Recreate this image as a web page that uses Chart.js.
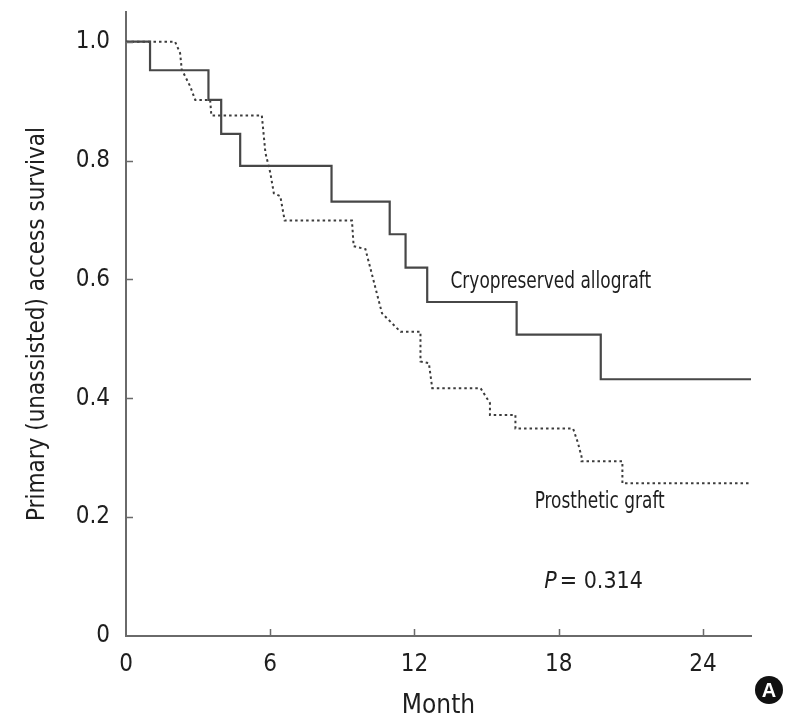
<!DOCTYPE html>
<html>
<head>
<meta charset="utf-8">
<title>Primary access survival</title>
<script src="https://cdn.jsdelivr.net/npm/chart.js@4.4.0/dist/chart.umd.min.js"></script>
<style>
  html, body { margin: 0; padding: 0; background: #fff; }
  #wrap { width: 787px; height: 720px; }
</style>
</head>
<body>
<div id="wrap"><canvas id="km" width="787" height="720"></canvas></div>
<script>
// Kaplan-Meier curves (months vs. survival)

const FONT = "'DejaVu Sans Condensed', 'Liberation Sans', sans-serif";
const INK = "#1e1e1e";
const AXIS = "#6a6a6a";

const xTicks = [0, 6, 12, 18, 24];
const yTicks = [0, 0.2, 0.4, 0.6, 0.8, 1.0];

// cryopreserved allograft: time of each drop and survival after it
const allograftMonths = [0, 1, 3.43, 3.96, 4.75, 8.55, 10.97, 11.63, 12.53, 16.25, 19.75, 26];
const allograftSurv = [1, 0.952, 0.902, 0.845, 0.791, 0.731, 0.676, 0.62, 0.562, 0.507, 0.432, 0.432];

// prosthetic graft: corners of the dotted curve (it slants where events bunch up)
const prostheticMonths = [0, 2.04, 2.25, 2.32, 2.67, 2.88, 3.5, 3.55, 5.65, 5.8, 6.0, 6.15, 6.42, 6.6,
  9.4, 9.47, 9.96, 10.65, 11.42, 12.25, 12.25, 12.6, 12.74, 14.75, 15.14, 15.14, 16.2, 16.2,
  18.6, 18.8, 18.95, 18.95, 20.65, 20.65, 25.9];
const prostheticSurv = [1, 1, 0.981, 0.953, 0.925, 0.902, 0.902, 0.876, 0.876, 0.813, 0.78, 0.745, 0.74, 0.699,
  0.699, 0.656, 0.651, 0.543, 0.512, 0.512, 0.462, 0.459, 0.417, 0.417, 0.392, 0.372, 0.372, 0.349,
  0.349, 0.325, 0.302, 0.294, 0.294, 0.257, 0.257];

const pValue = "0.314";

function toPoints(xs, ys) {
  return xs.map((x, i) => ({ x, y: ys[i] }));
}

// the figure uses a condensed face; squeeze the curve labels to the same width
function narrowText(ctx, text, x, y, squeeze) {
  ctx.save();
  ctx.translate(x, y);
  ctx.scale(squeeze, 1);
  ctx.fillText(text, 0, 0);
  ctx.restore();
}

// inward tick marks, curve labels, P value and the panel letter
const extras = {
  id: "extras",
  afterDraw(chart) {
    const { ctx, scales: { x, y } } = chart;
    ctx.save();

    ctx.strokeStyle = AXIS;
    ctx.lineWidth = 1.5;
    ctx.beginPath();
    xTicks.forEach((v) => {
      if (v === 0) return;
      const px = Math.round(x.getPixelForValue(v)) + 0.5;
      ctx.moveTo(px, y.bottom);
      ctx.lineTo(px, y.bottom - 7);
    });
    yTicks.forEach((v) => {
      if (v === 0) return;
      const py = Math.round(y.getPixelForValue(v)) + 0.5;
      ctx.moveTo(x.left, py);
      ctx.lineTo(x.left + 7, py);
    });
    ctx.stroke();

    ctx.fillStyle = INK;
    ctx.textBaseline = "alphabetic";
    ctx.textAlign = "left";
    ctx.font = `23px ${FONT}`;
    narrowText(ctx, "Cryopreserved allograft", x.getPixelForValue(13.5), y.getPixelForValue(0.585), 0.82);
    narrowText(ctx, "Prosthetic graft", x.getPixelForValue(17.0), y.getPixelForValue(0.216), 0.82);

    const px = x.getPixelForValue(17.4);
    const py = y.getPixelForValue(0.081);
    ctx.font = `italic 23px ${FONT}`;
    ctx.fillText("P", px, py);
    const w = ctx.measureText("P").width;
    ctx.font = `23px ${FONT}`;
    ctx.fillText("= " + pValue, px + w + 3, py);

    // circled "A"
    ctx.beginPath();
    ctx.arc(769, 690, 14, 0, Math.PI * 2);
    ctx.fillStyle = "#111";
    ctx.fill();
    ctx.fillStyle = "#fff";
    ctx.font = `bold 20px 'Liberation Sans', sans-serif`;
    ctx.textAlign = "center";
    ctx.textBaseline = "middle";
    ctx.fillText("A", 769, 691);

    ctx.restore();
  },
};

new Chart(document.getElementById("km"), {
  type: "line",
  data: {
    datasets: [
      {
        label: "Cryopreserved allograft",
        data: toPoints(allograftMonths, allograftSurv),
        stepped: true,
        borderColor: "#474747",
        borderWidth: 2.2,
        pointRadius: 0,
        fill: false,
      },
      {
        label: "Prosthetic graft",
        data: toPoints(prostheticMonths, prostheticSurv),
        borderColor: "#3c3c3c",
        borderWidth: 2,
        borderDash: [2.5, 3],
        pointRadius: 0,
        tension: 0,
        fill: false,
      },
    ],
  },
  options: {
    responsive: false,
    animation: false,
    events: [],
    layout: { padding: { top: 12, right: 36, left: 0, bottom: 0 } },
    plugins: { legend: { display: false }, tooltip: { enabled: false } },
    scales: {
      x: {
        type: "linear",
        min: 0,
        max: 26,
        afterBuildTicks: (scale) => { scale.ticks = xTicks.map((v) => ({ value: v })); },
        afterFit: (scale) => { scale.height = 84; scale.paddingRight = 0; scale.paddingLeft = 0; },
        grid: { display: false, drawTicks: false },
        border: { display: true, color: AXIS, width: 2 },
        ticks: { color: INK, font: { family: FONT, size: 24 }, padding: 14, maxRotation: 0 },
        title: {
          display: true,
          text: "Month",
          color: INK,
          font: { family: FONT, size: 26, lineHeight: 1 },
          padding: { top: 0, bottom: 1 },
        },
      },
      y: {
        type: "linear",
        min: 0,
        max: 1.05,
        afterBuildTicks: (scale) => { scale.ticks = yTicks.map((v) => ({ value: v })); },
        afterFit: (scale) => { scale.width = 126; scale.paddingTop = 0; scale.paddingBottom = 0; },
        grid: { display: false, drawTicks: false },
        border: { display: true, color: AXIS, width: 2 },
        ticks: {
          color: INK,
          font: { family: FONT, size: 24 },
          padding: 16,
          callback: (v) => (v === 0 ? "0" : v.toFixed(1)),
        },
        title: {
          display: true,
          text: "Primary (unassisted) access survival",
          color: INK,
          font: { family: FONT, size: 24 },
          padding: { top: 23, bottom: 0 },
        },
      },
    },
  },
  plugins: [extras],
});
</script>
</body>
</html>
